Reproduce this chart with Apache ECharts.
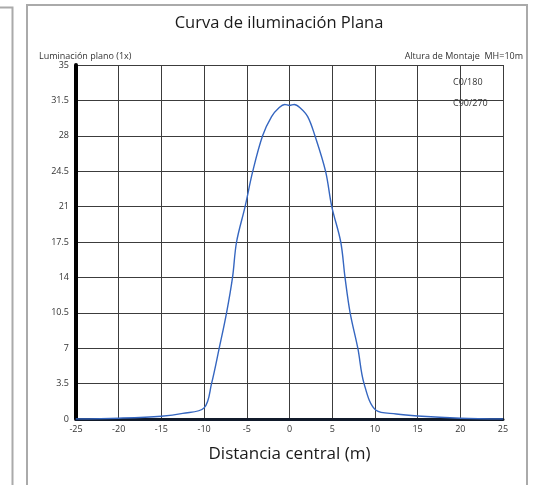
<!DOCTYPE html>
<html>
<head>
<meta charset="utf-8">
<script src="https://cdn.jsdelivr.net/npm/echarts@6/dist/echarts.min.js"></script>
<style>
  html, body { margin: 0; padding: 0; background: #fff; }
  #chart { width: 537px; height: 485px; }
</style>
</head>
<body>
<div id="chart"></div>
<script>
// distance from the centre (m) and planar illuminance
const distances = [-25, -20, -15, -12.5, -10, -9.13, -8.23, -7.37, -6.67, -6.2, -5.2, -4.3, -3.15, -2.1, -1.2, -0.55, 0,
  0.55, 1.2, 2.13, 2.98, 4.22, 4.95, 6.0, 6.5, 7.1, 8.0, 8.73, 10.13, 12.5, 15, 20, 25];
const illuminance = [0, 0.08, 0.27, 0.55, 1.1, 3.5, 7, 10.5, 14, 17.5, 21, 24.5, 28, 29.9, 30.8, 31.1, 31.0,
  31.1, 30.8, 29.9, 28, 24.5, 21, 17.5, 14, 10.5, 7, 3.5, 0.86, 0.5, 0.3, 0.08, 0];

const yTicks = [0, 3.5, 7, 10.5, 14, 17.5, 21, 24.5, 28, 31.5, 35];
const xTicks = [-25, -20, -15, -10, -5, 0, 5, 10, 15, 20, 25];

const seriesNames = ["C0/180", "C90/270"];

const font = "Open Sans";
const chart = echarts.init(document.getElementById("chart"));

chart.setOption({
  animation: false,
  backgroundColor: "#fff",
  title: {
    text: "Curva de iluminación Plana",
    left: 274,
    top: 10,
    textAlign: "center",
    textStyle: { fontFamily: font, fontSize: 16.5, fontWeight: "normal", color: "#1a1a1a" }
  },
  grid: {
    left: 76,
    top: 65,
    width: 427,
    height: 354,
    outerBoundsMode: "none"
  },
  xAxis: {
    type: "value",
    min: xTicks[0],
    max: xTicks[xTicks.length - 1],
    interval: 5,
    name: "Distancia central (m)",
    nameLocation: "middle",
    nameGap: 27,
    nameTextStyle: { fontFamily: font, fontSize: 17, color: "#1a1a1a" },
    axisLine: { onZero: false, lineStyle: { color: "#111a2a", width: 3 } },
    axisTick: { show: false },
    axisLabel: { fontFamily: font, fontSize: 9, color: "#333", margin: 6 },
    splitLine: { showMinLine: false, lineStyle: { color: "#3c3c3c", width: 1 } }
  },
  yAxis: {
    type: "value",
    min: yTicks[0],
    max: yTicks[yTicks.length - 1],
    interval: 3.5,
    position: "left",
    axisLine: { show: true, onZero: false, lineStyle: { color: "#000", width: 4 } },
    axisTick: { show: false },
    axisLabel: { fontFamily: font, fontSize: 9, color: "#333", margin: 7 },
    splitLine: { showMinLine: false, lineStyle: { color: "#3c3c3c", width: 1 } }
  },
  series: [
    {
      name: seriesNames[0],
      type: "line",
      data: distances.map((d, i) => [d, illuminance[i]]),
      smooth: 0.35,
      showSymbol: false,
      lineStyle: { color: "#3566c0", width: 1.4 }
    }
  ],
  graphic: [
    // side panel edge on the left
    {
      type: "polyline",
      shape: { points: [[0, 7.5], [12.5, 7.5], [12.5, 485]] },
      style: { stroke: "#aaa", lineWidth: 2, fill: null }
    },
    // main panel frame (open at the bottom)
    {
      type: "polyline",
      shape: { points: [[27, 485], [27, 5], [527, 5], [527, 485]] },
      style: { stroke: "#aaa", lineWidth: 2, fill: null }
    },
    {
      type: "text",
      left: 39,
      top: 52,
      style: { text: "Luminación plano (1x)", fontFamily: font, fontSize: 9, fill: "#333" }
    },
    {
      type: "text",
      right: 14,
      top: 52,
      style: { text: "Altura de Montaje  MH=10m", fontFamily: font, fontSize: 9, fill: "#333" }
    },
    {
      type: "text",
      left: 453,
      top: 78,
      style: { text: seriesNames[0], fontFamily: font, fontSize: 9, fill: "#333" }
    },
    {
      type: "text",
      left: 453,
      top: 99,
      style: { text: seriesNames[1], fontFamily: font, fontSize: 9, fill: "#333" }
    }
  ]
});
</script>
</body>
</html>
